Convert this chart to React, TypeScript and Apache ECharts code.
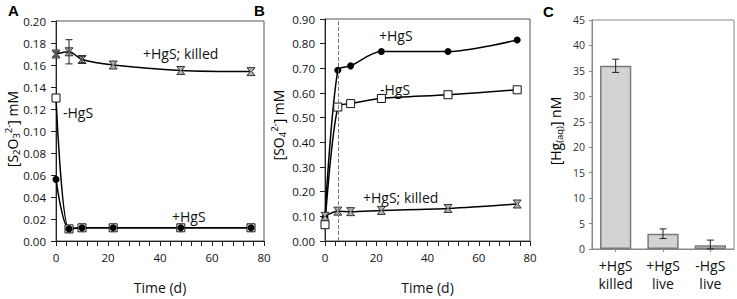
import React, { useEffect, useRef } from "react";
import * as echarts from "echarts";

// ---- data ----
const times = [0, 5, 10, 22, 48, 75];

// Panel A: thiosulfate (mM)
const killedA = [0.170, 0.172, 0.165, 0.160, 0.155, 0.154];
const killedAErr = [0.002, 0.011, 0.003, 0, 0, 0];
const minusA = [0.130, 0.011, 0.012, 0.012, 0.012, 0.012];
const plusA = [0.056, 0.011, 0.012, 0.012, 0.012, 0.012];

// Panel B: sulfate (mM)
const plusB = [0.095, 0.692, 0.710, 0.768, 0.768, 0.815];
const minusB = [0.066, 0.543, 0.557, 0.578, 0.593, 0.613];
const killedB = [0.100, 0.121, 0.119, 0.124, 0.132, 0.150];
const dashedT = 5;

// Panel C: Hg(aq) nM
const catsC = ["+HgS\nkilled", "+HgS\nlive", "-HgS\nlive"];
const valsC = [36, 3.0, 0.75];
const errC = [1.3, 0.95, 1.0];

const FONT = "Open Sans";

const pairs = (vals: number[]) => times.map((t, i) => [t, vals[i]]);

const hourglass = "path://M0,0H10L6,5L10,10H0L4,5Z";

function errRender(params: any, api: any) {
  const x = api.value(0);
  const lo = api.value(1);
  const hi = api.value(2);
  const p1 = api.coord([x, lo]);
  const p2 = api.coord([x, hi]);
  const w = 3.5;
  const st = { stroke: "#222", lineWidth: 1 };
  return {
    type: "group",
    children: [
      { type: "line", shape: { x1: p1[0], y1: p1[1], x2: p2[0], y2: p2[1] }, style: st },
      { type: "line", shape: { x1: p1[0] - w, y1: p1[1], x2: p1[0] + w, y2: p1[1] }, style: st },
      { type: "line", shape: { x1: p2[0] - w, y1: p2[1], x2: p2[0] + w, y2: p2[1] }, style: st },
    ],
  };
}

const richTitle = {
  n: { fontSize: 14, fontFamily: FONT, color: "#111", lineHeight: 18, verticalAlign: "middle" },
  sub: { fontSize: 9.5, fontFamily: FONT, color: "#111", verticalAlign: "bottom" },
  sup: { fontSize: 9.5, fontFamily: FONT, color: "#111", verticalAlign: "top" },
};

export default function App() {
  const ref = useRef<HTMLDivElement>(null);
  useEffect(() => {
    if (!ref.current) return;
    const chart = echarts.init(ref.current, null, { renderer: "svg" });

    const axisLabelAB = { fontFamily: FONT, fontSize: 11.5, color: "#111" };
    const lineCommon = {
      type: "line",
      smooth: 0.3,
      lineStyle: { color: "#000", width: 1.5 },
      z: 3,
    };

    const killedErrData = times
      .map((t, i) => [t, killedA[i] - killedAErr[i], killedA[i] + killedAErr[i], killedAErr[i]])
      .filter((d) => d[3] > 0)
      .map((d) => [d[0], d[1], d[2]]);

    const errCData = valsC.map((v, i) => [i, Math.max(0, v - errC[i]), v + errC[i]]);

    const xAxisAB = (gridIndex: number) => ({
      gridIndex, type: "value", min: 0, max: 80, interval: 20,
      axisLine: { show: true, lineStyle: { color: "#222" } },
      axisTick: { show: true, length: 5, lineStyle: { color: "#222" } },
      minorTick: { show: true, splitNumber: 5, length: 5, lineStyle: { color: "#222" } },
      splitLine: { show: false },
      axisLabel: { ...axisLabelAB, margin: 10 },
      name: "Time (d)", nameLocation: "middle", nameGap: 39,
      nameTextStyle: { fontFamily: FONT, fontSize: 14, color: "#111" },
    });

    const option: any = {
      animation: false,
      grid: [
        { left: 56, top: 21, width: 208, height: 226, show: true, borderColor: "#555", borderWidth: 1 },
        { left: 325, top: 19, width: 205, height: 229, show: true, borderColor: "#555", borderWidth: 1 },
        { left: 592, top: 20, width: 142, height: 229, show: true, borderColor: "#888", borderWidth: 1 },
      ],
      xAxis: [
        xAxisAB(0),
        xAxisAB(1),
        {
          gridIndex: 2, type: "category", data: catsC,
          axisLine: { show: true, lineStyle: { color: "#888" } },
          axisTick: { show: true, alignWithLabel: true, length: 3, lineStyle: { color: "#888" } },
          axisLabel: { fontFamily: FONT, fontSize: 14, color: "#111", lineHeight: 18, margin: 7, interval: 0, hideOverlap: false },
        },
      ],
      yAxis: [
        {
          gridIndex: 0, type: "value", min: 0, max: 0.2, interval: 0.02,
          axisLine: { show: true, lineStyle: { color: "#222" } },
          axisTick: { show: true, length: 5, lineStyle: { color: "#222" } },
          splitLine: { show: false },
          axisLabel: { ...axisLabelAB, margin: 10, formatter: (v: number) => v.toFixed(2) },
        },
        {
          gridIndex: 1, type: "value", min: 0, max: 0.9, interval: 0.1,
          axisLine: { show: true, lineStyle: { color: "#222" } },
          axisTick: { show: true, length: 5, lineStyle: { color: "#222" } },
          splitLine: { show: false },
          axisLabel: { ...axisLabelAB, margin: 10, formatter: (v: number) => v.toFixed(2) },
        },
        {
          gridIndex: 2, type: "value", min: 0, max: 45, interval: 5,
          axisLine: { show: true, lineStyle: { color: "#888" } },
          axisTick: { show: true, length: 3, lineStyle: { color: "#888" } },
          splitLine: { show: false },
          axisLabel: { fontFamily: FONT, fontSize: 10.5, color: "#333", margin: 7 },
        },
      ],
      series: [
        // Panel A
        {
          ...lineCommon, name: "A -HgS", xAxisIndex: 0, yAxisIndex: 0, data: pairs(minusA),
          symbol: "rect", symbolSize: 8,
          itemStyle: { color: "#fff", borderColor: "#111", borderWidth: 1 },
        },
        {
          ...lineCommon, name: "A +HgS", xAxisIndex: 0, yAxisIndex: 0, data: pairs(plusA),
          symbol: "circle", symbolSize: 7,
          itemStyle: { color: "#000", borderColor: "#000", borderWidth: 0 },
        },
        {
          ...lineCommon, name: "A killed", xAxisIndex: 0, yAxisIndex: 0, data: pairs(killedA),
          symbol: hourglass, symbolSize: 8,
          itemStyle: { color: "#b0b0b0", borderColor: "#333", borderWidth: 1 },
        },
        {
          type: "custom", name: "A err", xAxisIndex: 0, yAxisIndex: 0, data: killedErrData,
          encode: { x: 0, y: [1, 2] }, renderItem: errRender, z: 5,
        },
        // Panel B
        {
          ...lineCommon, name: "B +HgS", xAxisIndex: 1, yAxisIndex: 1, data: pairs(plusB),
          symbol: "circle", symbolSize: 7,
          itemStyle: { color: "#000", borderColor: "#000", borderWidth: 0 },
          markLine: {
            silent: true, symbol: "none", label: { show: false },
            lineStyle: { type: "dashed", color: "#777", width: 1 },
            data: [{ xAxis: dashedT }],
          },
        },
        {
          ...lineCommon, name: "B -HgS", xAxisIndex: 1, yAxisIndex: 1, data: pairs(minusB),
          symbol: "rect", symbolSize: 8,
          itemStyle: { color: "#fff", borderColor: "#111", borderWidth: 1 },
        },
        {
          ...lineCommon, name: "B killed", xAxisIndex: 1, yAxisIndex: 1, data: pairs(killedB),
          symbol: hourglass, symbolSize: 8,
          itemStyle: { color: "#b0b0b0", borderColor: "#333", borderWidth: 1 },
        },
        // Panel C
        {
          type: "bar", name: "C", xAxisIndex: 2, yAxisIndex: 2, data: valsC,
          barWidth: "66%",
          itemStyle: { color: "#d3d3d3", borderColor: "#7a7a7a", borderWidth: 1.5 },
        },
        {
          type: "custom", name: "C err", xAxisIndex: 2, yAxisIndex: 2, data: errCData,
          encode: { x: 0, y: [1, 2] }, renderItem: errRender, z: 5,
        },
      ],
      graphic: [
        { type: "text", left: 8, top: 3, style: { text: "A", font: "bold 15px 'Liberation Sans'", fill: "#000" } },
        { type: "text", left: 254, top: 3, style: { text: "B", font: "bold 15px 'Liberation Sans'", fill: "#000" } },
        { type: "text", left: 543, top: 4, style: { text: "C", font: "bold 15px 'Liberation Sans'", fill: "#000" } },
        // in-plot labels
        { type: "text", x: 143, y: 53, style: { text: "+HgS; killed", font: `14px '${FONT}'`, fill: "#111", verticalAlign: "middle" } },
        { type: "text", x: 63, y: 112, style: { text: "-HgS", font: `14px '${FONT}'`, fill: "#111", verticalAlign: "middle" } },
        { type: "text", x: 172, y: 216, style: { text: "+HgS", font: `14px '${FONT}'`, fill: "#111", verticalAlign: "middle" } },
        { type: "text", x: 379, y: 35, style: { text: "+HgS", font: `14px '${FONT}'`, fill: "#111", verticalAlign: "middle" } },
        { type: "text", x: 380, y: 89, style: { text: "-HgS", font: `14px '${FONT}'`, fill: "#111", verticalAlign: "middle" } },
        { type: "text", x: 363, y: 197, style: { text: "+HgS; killed", font: `14px '${FONT}'`, fill: "#111", verticalAlign: "middle" } },
        // y-axis titles
        {
          type: "text", x: 12, y: 129, rotation: Math.PI / 2,
          style: {
            text: "{n|[S}{sub|2}{n|O}{sub|3}{sup|2-}{n|] mM}", rich: richTitle,
            align: "center", verticalAlign: "middle",
          },
        },
        {
          type: "text", x: 278, y: 125, rotation: Math.PI / 2,
          style: {
            text: "{n|[SO}{sub|4}{sup|2-}{n|] mM}", rich: richTitle,
            align: "center", verticalAlign: "middle",
          },
        },
        {
          type: "text", x: 555, y: 131, rotation: Math.PI / 2,
          style: {
            text: "{n|[Hg}{sub|(aq)}{n|] nM}", rich: richTitle,
            align: "center", verticalAlign: "middle",
          },
        },
      ],
    };
    chart.setOption(option);
    return () => chart.dispose();
  }, []);
  return (
    <div
      ref={ref}
      style={{ position: "fixed", left: 0, top: 0, width: 737, height: 299, background: "#fff" }}
    />
  );
}
